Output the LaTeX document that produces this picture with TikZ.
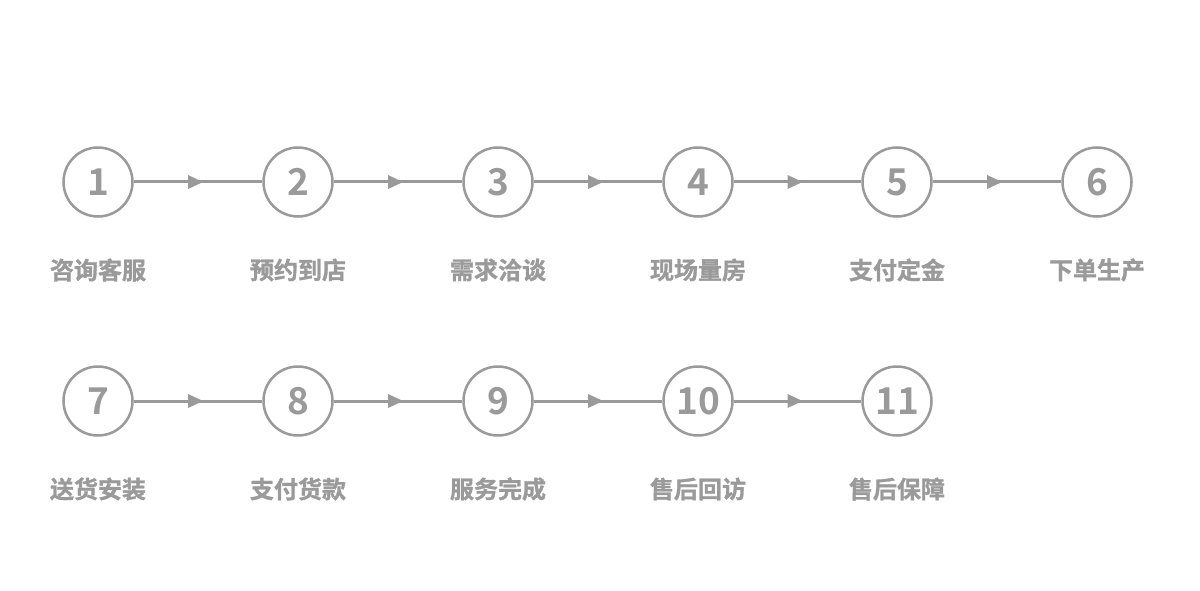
\documentclass[tikz,border=0pt]{standalone}
\usepackage{fontspec}
\newfontfamily\cjkd{Noto Sans CJK SC Bold}
\newfontfamily\cjkb[FakeBold=1.2]{Noto Sans CJK SC Bold}
\usetikzlibrary{arrows.meta,decorations.markings}
\definecolor{fg}{HTML}{9A9A9A}
\tikzset{
  x=1pt,y=-1pt,
  stepcircle/.style={circle,draw=fg,line width=2.5pt,minimum size=69pt,inner sep=0pt,
    font=\cjkd\fontsize{37}{37}\selectfont,text=fg,fill=white},
  steplabel/.style={font=\cjkb\fontsize{24}{24}\selectfont,text=fg,inner sep=0pt},
  conn/.style={draw=fg,line width=3pt,
    decoration={markings,mark=at position 0.5 with {\fill[fg] (-10pt,-7pt) -- (5pt,0) -- (-10pt,7pt) -- cycle;}},
    postaction={decorate}}
}
\begin{document}
\begin{tikzpicture}
\useasboundingbox (0,0) rectangle (1200,591);
\fill[white] (0,0) rectangle (1200,591);
\foreach \i/\x/\t in {1/98/咨询客服,2/298/预约到店,3/498/需求洽谈,4/698/现场量房,5/897/支付定金,6/1097/下单生产}{
  \node[stepcircle] (c\i) at (\x,182) {\i};
  \node[steplabel] (l\i) at (\x,270) {\t};
}
\foreach \i/\x/\t in {7/98/送货安装,8/298/支付货款,9/498/服务完成,10/698/售后回访,11/897/售后保障}{
  \node[stepcircle] (c\i) at (\x,401) {\i};
  \node[steplabel] (l\i) at (\x,489) {\t};
}
\foreach \a/\b in {1/2,2/3,3/4,4/5,5/6,7/8,8/9,9/10,10/11}{
  \path[conn] (c\a) -- (c\b);
}
\end{tikzpicture}
\end{document}
